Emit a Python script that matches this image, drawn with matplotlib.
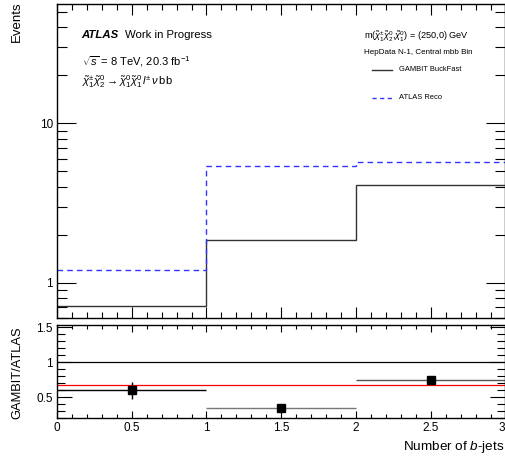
import matplotlib.pyplot as plt
from matplotlib.ticker import MultipleLocator, FixedLocator, NullFormatter

plt.rcParams["font.family"] = ["Liberation Sans", "DejaVu Sans"]
plt.rcParams["mathtext.fontset"] = "custom"
plt.rcParams["mathtext.rm"] = "Liberation Sans"
plt.rcParams["mathtext.it"] = "Liberation Sans:italic"
plt.rcParams["mathtext.bf"] = "Liberation Sans:bold"

# Data: number of b-jets bins
bin_edges = [0, 1, 2, 3]
bin_centers = [0.5, 1.5, 2.5]
gambit_events = [0.714, 1.845, 4.08]
atlas_events = [1.196, 5.37, 5.69]

# Ratio panel values
ratio_values = [0.594, 0.337, 0.737]
ratio_yerr = [0.12, 0.0, 0.0]
ratio_colors = ["black", "#777777", "#555555"]
ratio_reference = 0.671

x_ticks = [0, 0.5, 1, 1.5, 2, 2.5, 3]
x_tick_labels = ["0", "0.5", "1", "1.5", "2", "2.5", "3"]


def style_ticks(ax, major_len, minor_len):
    ax.tick_params(which="both", direction="in", top=True, right=True,
                   labelsize=8.5, width=0.8, pad=3)
    ax.tick_params(which="major", length=major_len)
    ax.tick_params(which="minor", length=minor_len)
    for s in ax.spines.values():
        s.set_linewidth(1.0)


def main():
    fig = plt.figure(figsize=(5.06, 4.62), dpi=100)
    W, H = 506.0, 462.0
    left = 57 / W
    ax = fig.add_axes([left, 1 - 318 / H, 1 - left - 0.001, (318 - 4) / H])
    rax = fig.add_axes([left, 1 - 418 / H, 1 - left - 0.001, (418 - 325) / H])

    # Main histogram
    ax.stairs(gambit_events, bin_edges, baseline=None, color="#333333", lw=1.0)
    ax.stairs(atlas_events, bin_edges, baseline=None, color="#3333ff", lw=1.0,
              linestyle=(0, (4, 3)))
    ax.set_yscale("log")
    ax.set_xlim(0, 3)
    ax.set_ylim(0.6, 56)
    ax.yaxis.set_major_locator(FixedLocator([1, 10]))
    ax.set_yticklabels(["1", "10"])
    ax.yaxis.set_minor_formatter(NullFormatter())
    ax.xaxis.set_major_locator(MultipleLocator(0.5))
    ax.xaxis.set_minor_locator(MultipleLocator(0.1))
    ax.tick_params(axis="x", labelbottom=False)
    style_ticks(ax, 14, 7)
    ax.tick_params(axis="x", which="major", length=8)
    ax.tick_params(axis="x", which="minor", length=4)

    # Labels in the main panel
    ax.text(0.055, 0.901, "ATLAS", transform=ax.transAxes, fontsize=8.2,
            fontweight="bold", fontstyle="italic", va="center")
    ax.text(0.152, 0.901, "Work in Progress", transform=ax.transAxes,
            fontsize=8.2, va="center")
    ax.text(0.055, 0.818, r"$\sqrt{s}$ = 8 TeV, 20.3 fb$^{-1}$",
            transform=ax.transAxes, fontsize=8, va="center")
    ax.text(0.055, 0.752,
            r"$\tilde{\chi}^{\pm}_{1}\tilde{\chi}^{0}_{2}\rightarrow"
            r"\tilde{\chi}^{0}_{1}\tilde{\chi}^{0}_{1}\,l^{\pm}\,\nu\,\mathrm{bb}$",
            transform=ax.transAxes, fontsize=8, va="center")
    ax.text(0.684, 0.895,
            r"m($\tilde{\chi}^{\pm}_{1}\tilde{\chi}^{0}_{2}$,$\tilde{\chi}^{0}_{1}$) = (250,0) GeV",
            transform=ax.transAxes, fontsize=6.6, va="center")
    ax.text(0.684, 0.847, "HepData N-1, Central mbb Bin",
            transform=ax.transAxes, fontsize=5.8, va="center")

    # Legend drawn by hand
    ax.plot([0.7016, 0.748], [0.79, 0.79], transform=ax.transAxes,
            color="#333333", lw=1.0)
    ax.text(0.762, 0.79, "GAMBIT BuckFast", transform=ax.transAxes,
            fontsize=5.4, va="center")
    ax.plot([0.7016, 0.748], [0.701, 0.701], transform=ax.transAxes,
            color="#3333ff", lw=1.0, linestyle=(0, (3, 2.5)))
    ax.text(0.762, 0.701, "ATLAS Reco", transform=ax.transAxes,
            fontsize=5.4, va="center")

    # Ratio panel
    rax.axhline(1.0, color="black", lw=0.9)
    rax.axhline(ratio_reference, color="#ff0000", lw=0.9)
    for x, y, e, c in zip(bin_centers, ratio_values, ratio_yerr, ratio_colors):
        rax.errorbar(x, y, xerr=0.5, yerr=e if e > 0 else None, fmt="s",
                     color=c, ecolor=c, mfc="black", mec="black",
                     ms=5.5, elinewidth=1.0, capsize=0)
    rax.set_xlim(0, 3)
    rax.set_ylim(0.2, 1.53)
    rax.set_xticks(x_ticks, x_tick_labels)
    rax.xaxis.set_minor_locator(MultipleLocator(0.1))
    rax.yaxis.set_major_locator(FixedLocator([0.5, 1.0, 1.5]))
    rax.set_yticklabels(["0.5", "1", "1.5"])
    rax.yaxis.set_minor_locator(MultipleLocator(0.1))
    style_ticks(rax, 11, 6)
    rax.tick_params(axis="x", which="major", length=5)
    rax.tick_params(axis="x", which="minor", length=3)
    rax.get_xticklabels()[-1].set_horizontalalignment("right")

    fig.text(17 / W, 1 - 1 / H, "Events", rotation=90, ha="center",
             va="top", fontsize=9.5)
    fig.text(17 / W, 1 - 373 / H, "GAMBIT/ATLAS", rotation=90, ha="center",
             va="center", fontsize=9.3)
    fig.text(504 / W, 1 - 447 / H, r"Number of $b$-jets", ha="right",
             va="center", fontsize=9.7)

    fig.savefig("out.png", dpi=100)


if __name__ == "__main__":
    main()
